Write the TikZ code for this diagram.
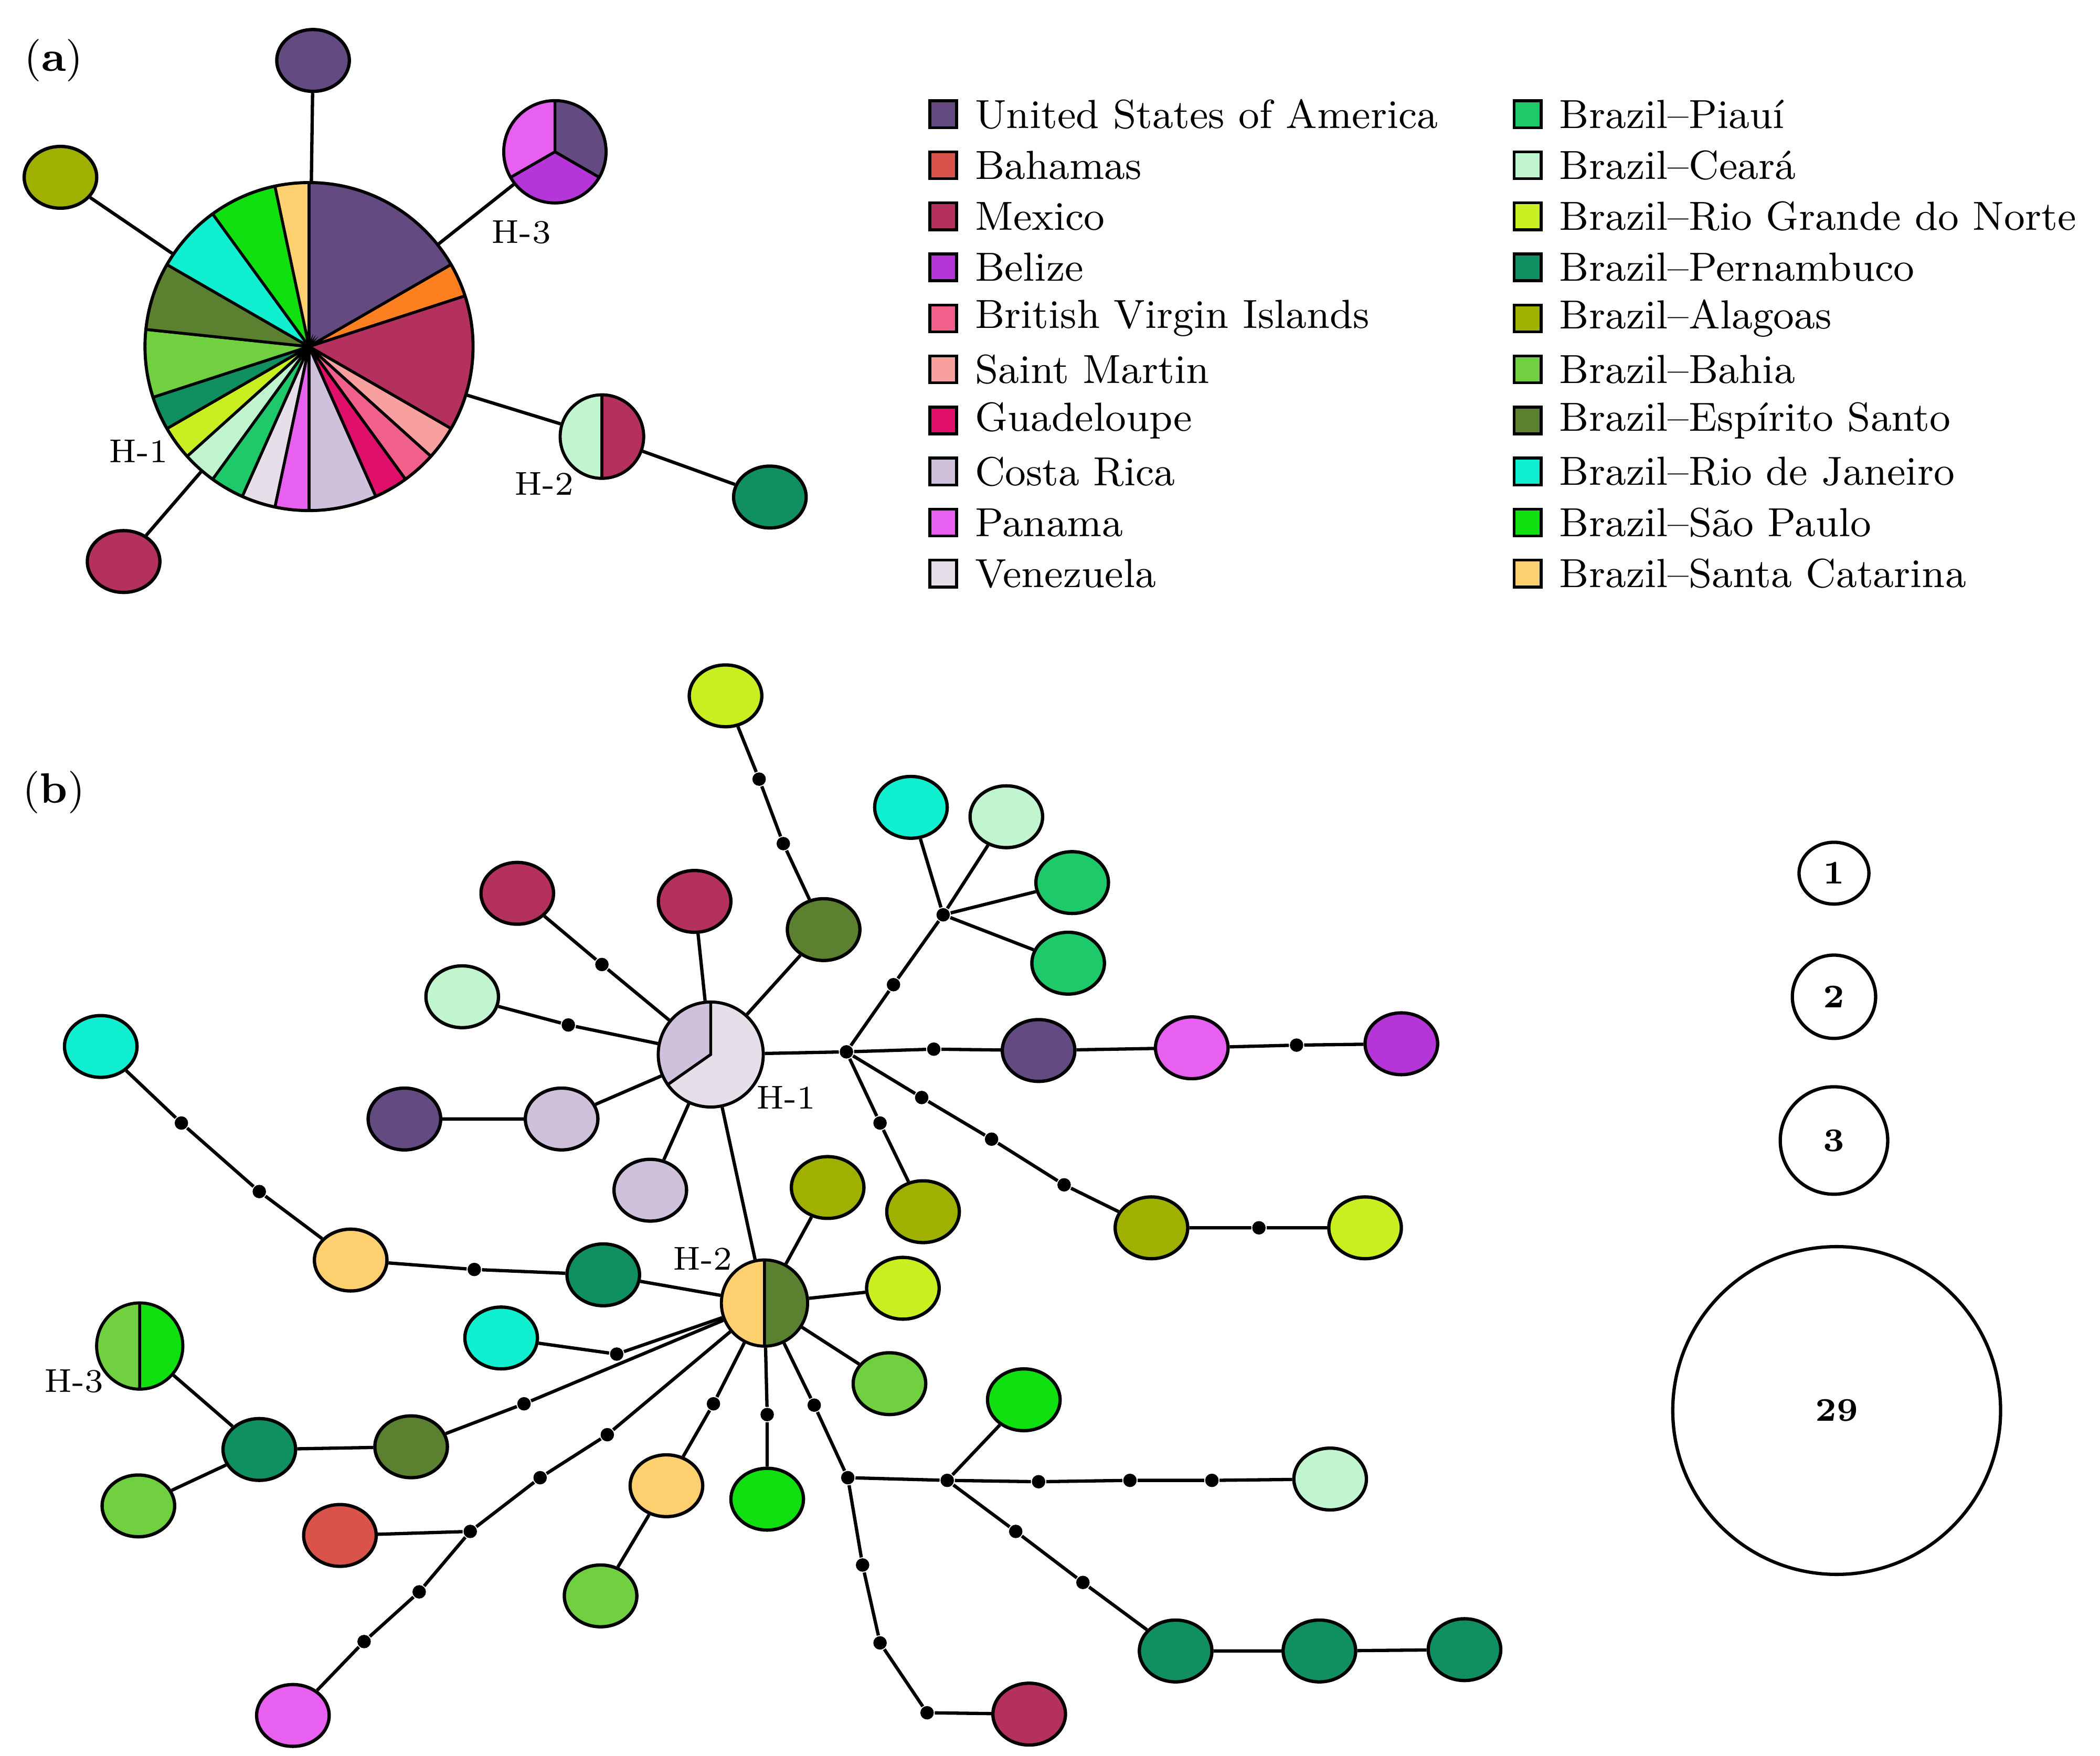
\documentclass[tikz,border=0pt]{standalone}
\usetikzlibrary{shapes.geometric,backgrounds}
\definecolor{cUSA}{HTML}{634A80}\definecolor{cBah}{HTML}{D9534A}\definecolor{cMex}{HTML}{B3305F}
\definecolor{cBel}{HTML}{B535D9}\definecolor{cBVI}{HTML}{F0608A}\definecolor{cSM}{HTML}{F8A0A0}
\definecolor{cGua}{HTML}{E0106A}\definecolor{cCR}{HTML}{CFC0DC}\definecolor{cPan}{HTML}{E860F0}
\definecolor{cVen}{HTML}{E6DFEA}\definecolor{cPI}{HTML}{1EC96A}\definecolor{cCE}{HTML}{C0F5D0}
\definecolor{cRN}{HTML}{C8F020}\definecolor{cPE}{HTML}{109060}\definecolor{cAL}{HTML}{A0B000}
\definecolor{cBA}{HTML}{70D040}\definecolor{cES}{HTML}{5A8030}\definecolor{cRJ}{HTML}{10F0D0}
\definecolor{cSP}{HTML}{10E010}\definecolor{cSC}{HTML}{FFD070}\definecolor{cOr}{HTML}{FF8020}
\newcommand\slicepie[5]{\begin{scope}[shift={(#1)},x=1cm,y=1cm]\fill[#5,draw=black,line width=0.6pt] (0,0) -- (#2:#4) arc[start angle=#2,end angle=#3,radius=#4] -- cycle;\end{scope}}
\tikzset{hap/.style={ellipse,draw=black,line width=0.7pt,minimum width=0.54cm,minimum height=0.46cm,inner sep=0pt,fill=#1},
dot/.style={circle,fill=black,inner sep=0pt,minimum size=0.1cm},
pie/.style={circle,draw=black,line width=0.7pt,inner sep=0pt,minimum size=#1},
lk/.style={line width=0.7pt},
lab/.style={font=\fontsize{7}{8}\selectfont},
leg/.style={anchor=west,font=\fontsize{8.6}{10}\selectfont,inner sep=0pt},
sq/.style={draw=black,line width=0.6pt,minimum size=0.2cm,inner sep=0pt,fill=#1}}
\begin{document}
\begin{tikzpicture}[x=0.1mm,y=-0.1mm]
\useasboundingbox (0,0) rectangle (1563,1307);
\node[font=\fontsize{9}{10}\selectfont] (pa) at (40,45) {(\textbf{a})};
\node[font=\fontsize{9}{10}\selectfont] (pb) at (40,590) {(\textbf{b})};
% panel a
\node[pie=2.44cm] (A1) at (230,258) {};
\foreach \a/\b/\c in {90/30/cUSA,30/18/cOr,18/-30/cMex,-30/-42/cSM,-42/-54/cBVI,-54/-66/cGua,-66/-90/cCR,-90/-102/cPan,-102/-114/cVen,-114/-126/cPI,-126/-138/cCE,-138/-150/cRN,-150/-162/cPE,-162/-186/cBA,-186/-210/cES,-210/-234/cRJ,-234/-258/cSP,-258/-270/cSC}
  {\slicepie{A1}{\a}{\b}{1.22}{\c}}
\node[pie=0.76cm] (A3) at (413,113) {};
\slicepie{A3}{90}{-30}{0.38}{cUSA}\slicepie{A3}{-30}{-150}{0.38}{cBel}\slicepie{A3}{210}{90}{0.38}{cPan}
\node[pie=0.62cm] (A2) at (448,325) {};
\slicepie{A2}{90}{270}{0.31}{cCE}\slicepie{A2}{90}{-90}{0.31}{cMex}
\node[hap=cUSA] (a1) at (233,45) {};
\node[hap=cAL] (a2) at (45,132) {};
\node[hap=cMex] (a3) at (92,418) {};
\node[hap=cPE] (a4) at (573,370) {};
\begin{scope}[on background layer]
\draw[lk] (a1)--(A1); \draw[lk] (a2)--(A1); \draw[lk] (a3)--(A1); \draw[lk] (A3)--(A1); \draw[lk] (A2)--(A1); \draw[lk] (A2)--(a4);
\end{scope}
\node[lab] (lA1) at (103,336) {H-1};
\node[lab] (lA3) at (388,173) {H-3};
\node[lab] (lA2) at (405,360) {H-2};
% legend
\foreach \c/\t [count=\i from 0] in {cUSA/United States of America,cBah/Bahamas,cMex/Mexico,cBel/Belize,cBVI/British Virgin Islands,cSM/Saint Martin,cGua/Guadeloupe,cCR/Costa Rica,cPan/Panama,cVen/Venezuela}
 {\node[sq=\c] (sqa\i) at (702,85+38*\i) {}; \node[leg] (lga\i) at (725,85+38*\i) {\t};}
\foreach \c/\t [count=\i from 0] in {cPI/Brazil--Piauí,cCE/Brazil--Ceará,cRN/Brazil--Rio Grande do Norte,cPE/Brazil--Pernambuco,cAL/Brazil--Alagoas,cBA/Brazil--Bahia,cES/Brazil--Espírito Santo,cRJ/Brazil--Rio de Janeiro,cSP/Brazil--São Paulo,cSC/Brazil--Santa Catarina}
 {\node[sq=\c] (sqb\i) at (1137,85+38*\i) {}; \node[leg] (lgb\i) at (1160,85+38*\i) {\t};}
% panel b
\node[pie=0.78cm] (H1) at (529,785) {};
\slicepie{H1}{90}{215}{0.39}{cCR}\slicepie{H1}{215}{450}{0.39}{cVen}
\node[pie=0.64cm] (H2) at (569,970) {};
\slicepie{H2}{90}{270}{0.32}{cSC}\slicepie{H2}{90}{-90}{0.32}{cES}
\node[pie=0.64cm] (H3) at (104,1002) {};
\slicepie{H3}{90}{270}{0.32}{cBA}\slicepie{H3}{90}{-90}{0.32}{cSP}
\node[lab] (l1) at (585,817) {H-1};
\node[lab] (l2) at (523,937) {H-2};
\node[lab] (l3) at (55,1028) {H-3};
\foreach \n/\c/\x/\y in {n1/cRN/540/518,n2/cES/613/692,n3/cMex/385/665,n4/cMex/517/671,n5/cCE/344/742,n6/cUSA/301/833,n7/cCR/418/833,n8/cCR/484/886,
 n9/cUSA/773/782,n10/cPan/887/780,n11/cBel/1043/777,n12/cRJ/678/601,n13/cCE/749/608,n14/cPI/798/657,n15/cPI/795/717,n16/cAL/687/902,n17/cAL/857/914,n18/cRN/1016/914,
 n19/cAL/616/884,n20/cRN/672/959,n21/cBA/662/1030,n22/cPE/449/949,n23/cSC/261/938,n24/cRJ/75/779,n25/cRJ/373/996,n26/cES/306/1077,n27/cPE/193/1079,n28/cBA/103/1121,
 n29/cPan/218/1277,n30/cBah/253/1143,n31/cSC/496/1106,n32/cBA/447/1188,n33/cSP/571/1116,n34/cMex/766/1276,n35/cSP/762/1042,n36/cCE/990/1101,n37/cPE/875/1229,n38/cPE/982/1229,n39/cPE/1090/1228}
 {\node[hap=\c] (\n) at (\x,\y) {};}
\foreach \n/\x/\y in {d1/565/580,d2/583/628,d3/448/718,d4/423/763,J1/630/783,d5/695/781,d6/965/778,d7/665/733,J2/702/681,d8/655/836,d9/686/817,d10/738/848,d11/792/882,d12/937/914,
 d13/353/945,d14/135/836,d15/193/887,d16/459/1008,d17/390/1045,d18/452/1068,d19/402/1100,d20/350/1140,d21/312/1185,d22/271/1222,d23/531/1045,d24/571/1053,d25/606/1046,J3/631/1100,
 d26/642/1165,d27/655/1223,d28/690/1275,J4/705/1102,d29/773/1103,d30/841/1102,d31/902/1102,d32/756/1140,d33/806/1178}
 {\node[dot] (\n) at (\x,\y) {};}
\begin{scope}[on background layer]
\draw[lk] (n1)--(d1)--(d2)--(n2)--(H1);
\draw[lk] (n3)--(d3)--(H1); \draw[lk] (n4)--(H1); \draw[lk] (n5)--(d4)--(H1);
\draw[lk] (n6)--(n7)--(H1); \draw[lk] (n8)--(H1);
\draw[lk] (H1)--(J1)--(d5)--(n9)--(n10)--(d6)--(n11);
\draw[lk] (J1)--(d7)--(J2); \foreach \m in {n12,n13,n14,n15} \draw[lk] (J2)--(\m);
\draw[lk] (J1)--(d8)--(n16);
\draw[lk] (J1)--(d9)--(d10)--(d11)--(n17)--(d12)--(n18);
\draw[lk] (H1)--(H2);
\draw[lk] (H2)--(n19); \draw[lk] (H2)--(n20); \draw[lk] (H2)--(n21);
\draw[lk] (H2)--(n22)--(d13)--(n23)--(d15)--(d14)--(n24);
\draw[lk] (n25)--(d16)--(H2);
\draw[lk] (H2)--(d17)--(n26)--(n27)--(H3); \draw[lk] (n27)--(n28);
\draw[lk] (H2)--(d18)--(d19)--(d20)--(d21)--(d22)--(n29); \draw[lk] (n30)--(d20);
\draw[lk] (H2)--(d23)--(n31)--(n32);
\draw[lk] (H2)--(d24)--(n33);
\draw[lk] (H2)--(d25)--(J3)--(d26)--(d27)--(d28)--(n34);
\draw[lk] (J3)--(J4)--(n35); \draw[lk] (J4)--(d29)--(d30)--(d31)--(n36);
\draw[lk] (J4)--(d32)--(d33)--(n37)--(n38)--(n39);
\end{scope}
% scale
\node[ellipse,draw,line width=0.7pt,minimum width=0.52cm,minimum height=0.46cm,inner sep=0pt,font=\fontsize{7}{8}\selectfont\bfseries] (s1) at (1365,650) {1};
\node[circle,draw,line width=0.7pt,minimum size=0.62cm,inner sep=0pt,font=\fontsize{7}{8}\selectfont\bfseries] (s2) at (1365,742) {2};
\node[circle,draw,line width=0.7pt,minimum size=0.8cm,inner sep=0pt,font=\fontsize{7}{8}\selectfont\bfseries] (s3) at (1365,849) {3};
\node[circle,draw,line width=0.7pt,minimum size=2.44cm,inner sep=0pt,font=\fontsize{7}{8}\selectfont\bfseries] (s4) at (1367,1050) {29};
\end{tikzpicture}
\end{document}
